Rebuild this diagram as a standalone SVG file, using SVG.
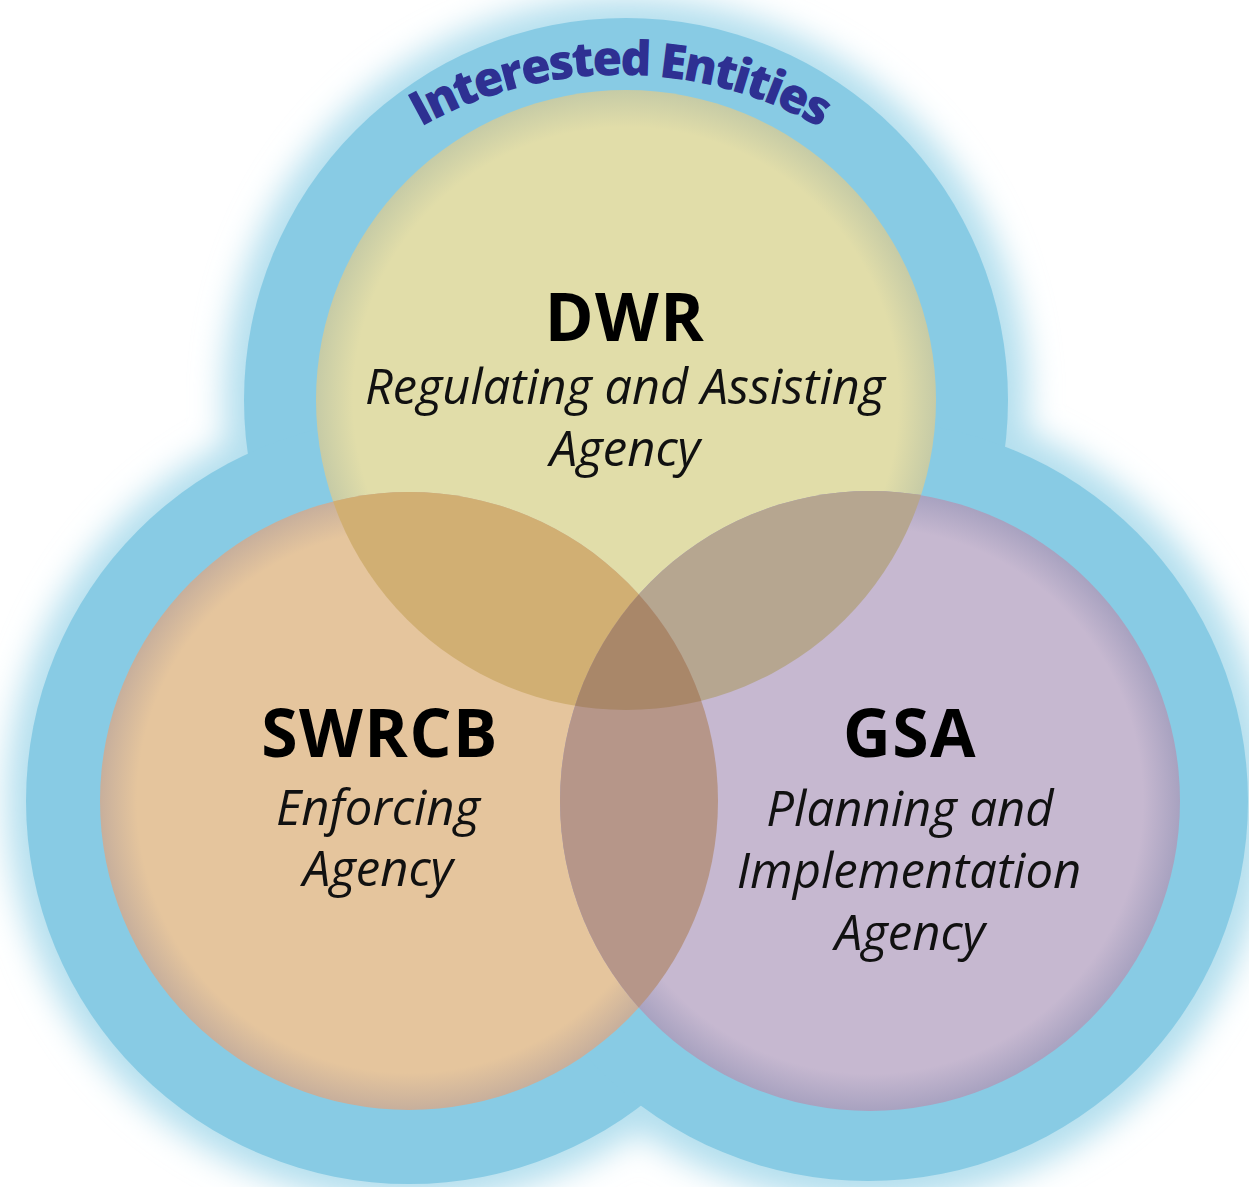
<svg xmlns="http://www.w3.org/2000/svg" width="1249" height="1187" viewBox="0 0 1249 1187">
  <style>
    .head { font-family: "Open Sans", "Liberation Sans", sans-serif; font-weight: 700; font-size: 66px; letter-spacing: 1.5px; fill: #000; text-anchor: middle; }
    .sub { font-family: "Open Sans", "Liberation Sans", sans-serif; font-style: italic; font-size: 49px; fill: #111; text-anchor: middle; }
    .arc { font-family: "Open Sans", "Liberation Sans", sans-serif; font-weight: 800; font-size: 48px; letter-spacing: -2.4px; fill: #2E3092; }
  </style>
  <defs>
    <filter id="glow" x="-20%" y="-20%" width="140%" height="140%">
      <feGaussianBlur stdDeviation="16"/>
    </filter>
    <radialGradient id="gD" cx="0.5" cy="0.5" r="0.5">
      <stop offset="0.88" stop-color="#E1DDA9"/>
      <stop offset="1" stop-color="#C6CBA6"/>
    </radialGradient>
    <radialGradient id="gS" cx="0.5" cy="0.5" r="0.5">
      <stop offset="0.88" stop-color="#E5C59D"/>
      <stop offset="1" stop-color="#C7AF9C"/>
    </radialGradient>
    <radialGradient id="gG" cx="0.5" cy="0.5" r="0.5">
      <stop offset="0.88" stop-color="#C6B8D0"/>
      <stop offset="1" stop-color="#A8A2C0"/>
    </radialGradient>
    <clipPath id="cD"><circle cx="626" cy="400" r="310"/></clipPath>
    <clipPath id="cS"><circle cx="409" cy="801" r="309"/></clipPath>
    <path id="arcPath" d="M 215 480 A 405 405 0 0 1 1025 480"/>
  </defs>

  <rect x="0" y="0" width="1249" height="1187" fill="#FFFFFF"/>

  <g id="interested-entities">
    <g fill="#B4DFEE" filter="url(#glow)">
      <circle cx="626" cy="400" r="402"/>
      <circle cx="409" cy="801" r="402"/>
      <circle cx="868" cy="801" r="402"/>
    </g>
    <g fill="#88CBE4">
      <circle cx="626" cy="400" r="382"/>
      <circle cx="409" cy="801" r="383"/>
      <circle cx="868" cy="801" r="380"/>
    </g>
    <text class="arc"><textPath href="#arcPath" startOffset="50%" text-anchor="middle">Interested Entities</textPath></text>
  </g>

  <g id="dwr-circle">
    <circle cx="626" cy="400" r="310" fill="url(#gD)"/>
  </g>
  <g id="swrcb-circle">
    <circle cx="409" cy="801" r="309" fill="url(#gS)"/>
  </g>
  <g id="gsa-circle">
    <circle cx="870" cy="801" r="310" fill="url(#gG)"/>
  </g>

  <g id="overlaps">
    <circle cx="409" cy="801" r="309" fill="#D1AF73" clip-path="url(#cD)"/>
    <circle cx="870" cy="801" r="310" fill="#B6A690" clip-path="url(#cD)"/>
    <circle cx="870" cy="801" r="310" fill="#B69689" clip-path="url(#cS)"/>
    <g clip-path="url(#cD)">
      <circle cx="870" cy="801" r="310" fill="#A98769" clip-path="url(#cS)"/>
    </g>
  </g>

  <g id="connectors"></g>

  <g id="dwr">
    <text class="head" x="625" y="341">DWR</text>
    <text class="sub" x="625" y="404" textLength="520" lengthAdjust="spacingAndGlyphs">Regulating and Assisting</text>
    <text class="sub" x="625" y="466">Agency</text>
  </g>
  <g id="swrcb">
    <text class="head" x="380" y="757">SWRCB</text>
    <text class="sub" x="378" y="825">Enforcing</text>
    <text class="sub" x="378" y="886">Agency</text>
  </g>
  <g id="gsa">
    <text class="head" x="910" y="757">GSA</text>
    <text class="sub" x="910" y="826">Planning and</text>
    <text class="sub" x="909" y="888">Implementation</text>
    <text class="sub" x="910" y="950">Agency</text>
  </g>
</svg>
